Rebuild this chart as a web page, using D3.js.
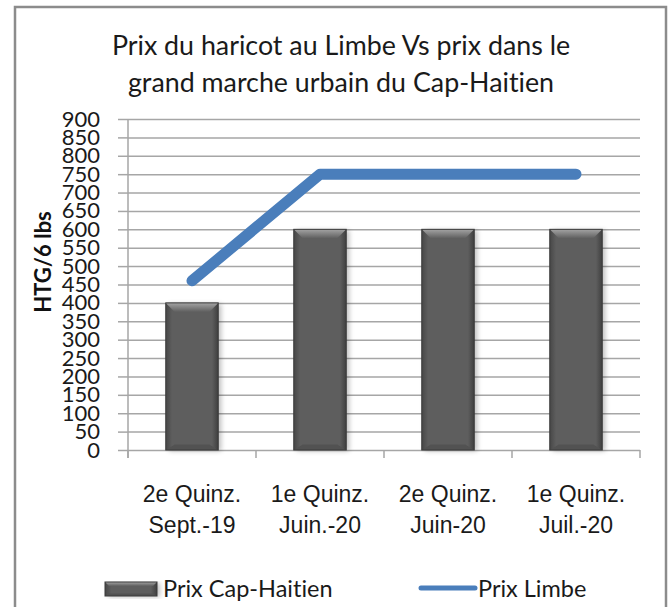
<!DOCTYPE html>
<html>
<head>
<meta charset="utf-8">
<script src="https://cdn.jsdelivr.net/npm/d3@7"></script>
<style>
    html, body { margin: 0; padding: 0; background: #fff; }
    svg { display: block; font-family: Lato, "Open Sans", sans-serif; font-variant-ligatures: none; }
</style>
</head>
<body>
<div id="chart"></div>
<script>
const categories = [
    ['2e Quinz.', 'Sept.-19'],
    ['1e Quinz.', 'Juin.-20'],
    ['2e Quinz.', 'Juin-20'],
    ['1e Quinz.', 'Juil.-20'],
];
const prixCapHaitien = [400, 600, 600, 600];
const prixLimbe = [460, 750, 750, 750];
const yTicks = [0, 50, 100, 150, 200, 250, 300, 350, 400, 450, 500, 550, 600, 650, 700, 750, 800, 850, 900];
const titleLines = ['Prix du haricot au Limbe Vs prix dans le', 'grand marche urbain du Cap-Haitien'];

const width = 672;
const height = 607;
const plot = { left: 128, right: 640, top: 119, bottom: 450 };

const keys = categories.map((c) => c.join(' '));

const svg = d3.select('#chart')
    .append('svg')
    .attr('width', width)
    .attr('height', height);

const defs = svg.append('defs');

// gradients for the bevelled bars
const sideGrad = defs.append('linearGradient').attr('id', 'barSide').attr('x1', 0).attr('x2', 1).attr('y1', 0).attr('y2', 0);
sideGrad.append('stop').attr('offset', '0%').attr('stop-color', '#474747');
sideGrad.append('stop').attr('offset', '12%').attr('stop-color', '#5e5e5e');
sideGrad.append('stop').attr('offset', '88%').attr('stop-color', '#5e5e5e');
sideGrad.append('stop').attr('offset', '100%').attr('stop-color', '#3f3f3f');

const topGrad = defs.append('linearGradient').attr('id', 'barTop').attr('x1', 0).attr('x2', 0).attr('y1', 0).attr('y2', 1);
topGrad.append('stop').attr('offset', '0%').attr('stop-color', '#a4a4a4');
topGrad.append('stop').attr('offset', '100%').attr('stop-color', '#5f5f5f');

defs.append('filter').attr('id', 'shadow').attr('x', '-20%').attr('width', '150%')
    .append('feGaussianBlur').attr('stdDeviation', 2.5);

// outer frame
svg.append('rect')
    .attr('x', 15).attr('y', 7)
    .attr('width', 651).attr('height', 640)
    .attr('fill', 'none')
    .attr('stroke', '#8c8c8c')
    .attr('stroke-width', 2.5);

// title
svg.append('text')
    .attr('text-anchor', 'middle')
    .attr('font-size', 26.8)
    .attr('fill', '#1a1a1a')
    .selectAll('tspan')
    .data(titleLines)
    .join('tspan')
    .attr('x', 341)
    .attr('y', (d, i) => 55 + i * 37)
    .text((d) => d);

const x = d3.scaleBand().domain(keys).range([plot.left, plot.right]);
const y = d3.scaleLinear().domain([0, 900]).range([plot.bottom, plot.top]);

// gridlines
svg.append('g')
    .attr('class', 'gridlines')
    .attr('transform', `translate(${plot.left}, 0)`)
    .call(d3.axisLeft(y).tickValues(yTicks).tickFormat('').tickSize(-(plot.right - plot.left)))
    .call((g) => g.select('.domain').remove())
    .call((g) => g.selectAll('line').attr('stroke', '#a6a6a6').attr('stroke-width', 1.5));

// y axis
svg.append('g')
    .attr('transform', `translate(${plot.left}, 0)`)
    .call(d3.axisLeft(y).tickValues(yTicks).tickSize(10).tickPadding(18).tickSizeOuter(0))
    .call((g) => g.select('.domain').attr('stroke', '#a6a6a6').attr('stroke-width', 1.5)
        .attr('d', `M0,${plot.top}V${plot.bottom + 8}`))
    .call((g) => g.selectAll('line').attr('stroke', '#a6a6a6').attr('stroke-width', 1.5))
    .call((g) => g.selectAll('text').attr('font-size', 22).attr('fill', '#1a1a1a').attr('font-family', 'Lato'));

// x axis ticks on band boundaries
const bounds = keys.map((k) => x(k)).concat([plot.right]);
svg.append('g')
    .selectAll('line')
    .data(bounds)
    .join('line')
    .attr('x1', (d) => d).attr('x2', (d) => d)
    .attr('y1', plot.bottom).attr('y2', plot.bottom + 8)
    .attr('stroke', '#a6a6a6')
    .attr('stroke-width', 1.5);

// x labels
const xAxis = svg.append('g')
    .attr('transform', `translate(0, ${plot.bottom})`)
    .call(d3.axisBottom(x).tickSize(0).tickFormat(''))
    .call((g) => g.select('.domain').remove());

xAxis.selectAll('.tick text').remove();
xAxis.selectAll('.tick')
    .append('text')
    .attr('text-anchor', 'middle')
    .attr('font-size', 23)
    .attr('fill', '#1a1a1a')
    .selectAll('tspan')
    .data((d) => categories[keys.indexOf(d)])
    .join('tspan')
    .attr('x', 0)
    .attr('y', (d, i) => 52 + i * 31)
    .text((d) => d);

// bevelled bar helper
function bevelBar(g, x0, y0, w, h, b) {
    g.append('rect')
        .attr('x', x0 + 3).attr('y', y0 + 1)
        .attr('width', w).attr('height', h)
        .attr('fill', '#000').attr('opacity', 0.25)
        .attr('filter', 'url(#shadow)');
    g.append('rect')
        .attr('x', x0).attr('y', y0)
        .attr('width', w).attr('height', h)
        .attr('fill', 'url(#barSide)');
    g.append('path')
        .attr('d', `M${x0},${y0}H${x0 + w}L${x0 + w - b},${y0 + b}H${x0 + b}Z`)
        .attr('fill', 'url(#barTop)');
    g.append('path')
        .attr('d', `M${x0},${y0 + h}H${x0 + w}L${x0 + w - b},${y0 + h - b * 0.6}H${x0 + b}Z`)
        .attr('fill', '#525252');
    g.append('rect')
        .attr('x', x0).attr('y', y0)
        .attr('width', w).attr('height', h)
        .attr('fill', 'none')
        .attr('stroke', '#3a3a3a')
        .attr('stroke-width', 1);
}

const barWidth = x.bandwidth() * 0.41;
const bars = svg.append('g').attr('class', 'bars');
keys.forEach((k, i) => {
    const cx = x(k) + x.bandwidth() / 2;
    bevelBar(bars.append('g'), cx - barWidth / 2, y(prixCapHaitien[i]), barWidth, y(0) - y(prixCapHaitien[i]), 9);
});

// Prix Limbe line
const line = d3.line()
    .x((d, i) => x(keys[i]) + x.bandwidth() / 2)
    .y((d) => y(d));

svg.append('path')
    .datum(prixLimbe)
    .attr('d', line)
    .attr('fill', 'none')
    .attr('stroke', '#4a7ebb')
    .attr('stroke-width', 11)
    .attr('stroke-linecap', 'round')
    .attr('stroke-linejoin', 'round');

// legend
const legend = svg.append('g').attr('font-size', 23.5).attr('fill', '#1a1a1a');
bevelBar(legend.append('g'), 105, 582, 52, 14, 4);
legend.append('text').attr('x', 163).attr('y', 597).text('Prix Cap-Haitien');
legend.append('line')
    .attr('x1', 421).attr('x2', 475)
    .attr('y1', 588).attr('y2', 588)
    .attr('stroke', '#4a7ebb')
    .attr('stroke-width', 5)
    .attr('stroke-linecap', 'round');
legend.append('text').attr('x', 478).attr('y', 597).text('Prix Limbe');

// y axis title
svg.append('text')
    .attr('transform', 'translate(51, 262) rotate(-90)')
    .attr('text-anchor', 'middle')
    .attr('font-size', 22)
    .attr('font-weight', 'bold')
    .attr('fill', '#111')
    .text('HTG/6 lbs');
</script>
</body>
</html>
